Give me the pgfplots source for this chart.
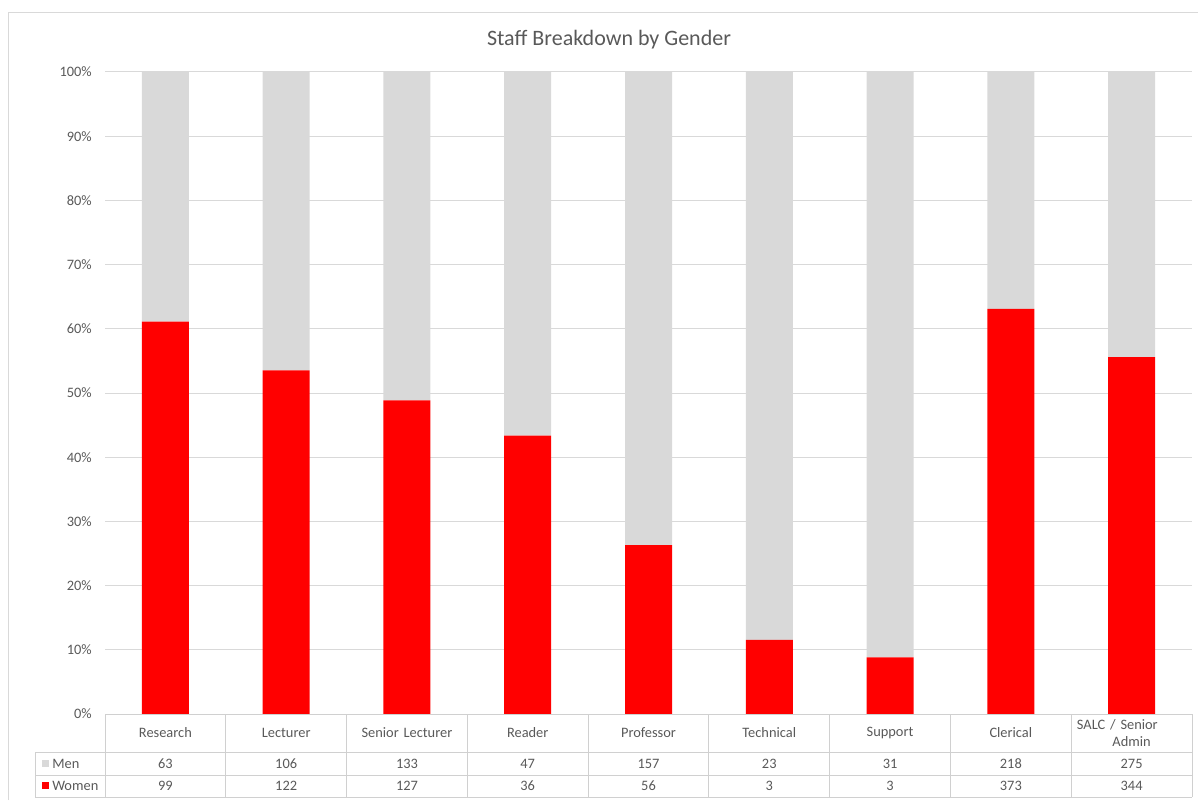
\documentclass[border=0pt]{standalone}
\usepackage{pgfplots}
\usepackage{pgfplotstable}
\pgfplotsset{compat=1.18}
\usepackage{fontspec}
\setmainfont{Carlito}
% category names wrap at spaces only
\hyphenpenalty=10000
\lefthyphenmin=62

\definecolor{menGray}{HTML}{D9D9D9}
\definecolor{womenRed}{HTML}{FF0000}
\definecolor{labelGray}{HTML}{595959}
\definecolor{gridGray}{HTML}{D9D9D9}
\definecolor{tableLine}{HTML}{D0D0D0}

% Head counts per staff category
\pgfplotstableread[col sep=comma]{
cat,men,women
Research,63,99
Lecturer,106,122
Senior Lecturer,133,127
Reader,47,36
Professor,157,56
Technical,23,3
Support,31,3
Clerical,218,373
SALC / Senior\newline Admin,275,344
}\staff

\begin{document}
\begin{tikzpicture}[x=0.75pt,y=0.75pt]
  \path[use as bounding box] (0,0) rectangle (1198,800);
  % chart frame
  \draw[gridGray, line width=0.75pt] (8.5,0) -- (8.5,787.5) -- (1198,787.5);

  \node[font=\fontsize{16.5}{19}\selectfont, text=labelGray] at (609,760) {Staff Breakdown by Gender};

  \begin{axis}[
    at={(78.75pt,64.5pt)}, anchor=south west,
    scale only axis,
    width=815.25pt, height=481.5pt,
    xmin=-0.5, xmax=8.5, ymin=0, ymax=100,
    ybar stacked, bar width=35.25pt,
    axis line style={draw=none},
    major tick length=0pt,
    xtick=\empty,
    ytick={0,10,...,100},
    yticklabels={0\%,10\%,20\%,30\%,40\%,50\%,60\%,70\%,80\%,90\%,100\%},
    yticklabel style={font=\fontsize{10.8}{13}\selectfont, text=labelGray, inner sep=0pt, anchor=east, xshift=-9.75pt},
    ymajorgrids, grid style={gridGray, line width=0.75pt},
    clip=false,
  ]
    \addplot[fill=womenRed, draw=none] table[x expr=\coordindex,
      y expr={\thisrow{women}/(\thisrow{women}+\thisrow{men})*100}] {\staff};
    \addplot[fill=menGray, draw=none] table[x expr=\coordindex,
      y expr={\thisrow{men}/(\thisrow{women}+\thisrow{men})*100}] {\staff};
  \end{axis}

  % data table below the plot
  \begin{scope}[tableLine, line width=0.75pt]
    \draw (105,86) -- (1192,86);
    \draw (35,48) -- (1192,48);
    \draw (35,25) -- (1192,25);
    \draw (35,3) -- (1192,3);
    \draw (35,48) -- (35,3);
    \foreach \k in {0,...,9}{
      \pgfmathsetmacro\bx{105+1087/9*\k}
      \draw (\bx,86) -- (\bx,3);
    }
  \end{scope}
  \fill[menGray] (42,33) rectangle (49,40);
  \fill[womenRed] (42,11) rectangle (49,18);
  \node[anchor=west, inner sep=0pt, font=\fontsize{10.8}{13}\selectfont, text=labelGray] at (52,36.5) {Men};
  \node[anchor=west, inner sep=0pt, font=\fontsize{10.8}{13}\selectfont, text=labelGray] at (52,14) {Women};
  \foreach \i in {0,...,8}{
    \pgfplotstablegetelem{\i}{cat}\of\staff \let\catname\pgfplotsretval
    \pgfplotstablegetelem{\i}{men}\of\staff \let\nmen\pgfplotsretval
    \pgfplotstablegetelem{\i}{women}\of\staff \let\nwomen\pgfplotsretval
    \pgfmathsetmacro\cx{105+1087/9*(\i+0.5)}
    \node[text width=82pt, align=center, inner sep=0pt, font=\fontsize{10.8}{12.5}\selectfont, text=labelGray] at (\cx,67) {\catname};
    \node[inner sep=0pt, font=\fontsize{10.8}{13}\selectfont, text=labelGray] at (\cx,36.5) {\nmen};
    \node[inner sep=0pt, font=\fontsize{10.8}{13}\selectfont, text=labelGray] at (\cx,14) {\nwomen};
  }
\end{tikzpicture}
\end{document}
